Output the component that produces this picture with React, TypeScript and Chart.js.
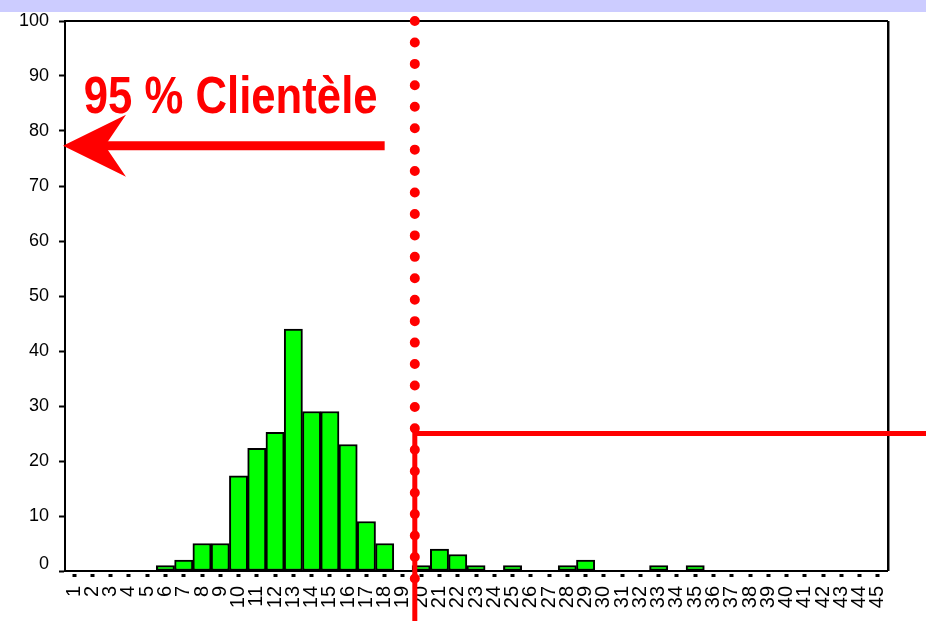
import { useEffect, useRef } from 'react';
import { Chart, registerables } from 'chart.js';

Chart.register(...registerables);

// ---- data ----
const categories = [
  '1', '2', '3', '4', '5', '6', '7', '8', '9', '10',
  '11', '12', '13', '14', '15', '16', '17', '18', '19', '20',
  '21', '22', '23', '24', '25', '26', '27', '28', '29', '30',
  '31', '32', '33', '34', '35', '36', '37', '38', '39', '40',
  '41', '42', '43', '44', '45',
];
const counts = [
  0, 0, 0, 0, 0, 1, 2, 5, 5, 17.3,
  22.3, 25.2, 44, 29, 29, 23, 9, 5, 0, 1,
  4, 3, 1, 0, 1, 0, 0, 1, 2, 0,
  0, 0, 1, 0, 1, 0, 0, 0, 0, 0,
  0, 0, 0, 0, 0,
];
const yMin = 0;
const yMax = 100;
const yStep = 10;

// annotation anchors (in data / category-index units)
const cutIndex = 18.65;
const cutLevel = 25;
const arrowLevel = 77.3;
const arrowTailIndex = 17;
const labelText = '95 % Clientèle';
const labelIndex = 0.53;
const labelLevel = 83.3;

const RED = '#FF0000';
const FONT = '"Liberation Sans", Arial, sans-serif';

const decorPlugin = {
  id: 'decor',
  beforeDraw(chart: any) {
    const { ctx, width } = chart;
    ctx.save();
    ctx.fillStyle = '#CCCCFF';
    ctx.fillRect(0, 0, width, 12);
    ctx.restore();
  },
  afterDatasetsDraw(chart: any) {
    const { ctx, chartArea, scales, width, height } = chart;
    const x = scales.x;
    const y = scales.y;
    ctx.save();

    // frame top & right
    ctx.strokeStyle = '#000';
    ctx.lineWidth = 2;
    ctx.beginPath();
    ctx.moveTo(chartArea.left - 1, chartArea.top);
    ctx.lineTo(chartArea.right + 1, chartArea.top);
    ctx.moveTo(chartArea.right + 1, chartArea.top);
    ctx.lineTo(chartArea.right + 1, chartArea.bottom);
    ctx.stroke();
    ctx.strokeStyle = '#888';
    ctx.lineWidth = 1;
    ctx.beginPath();
    ctx.moveTo(chartArea.right + 2.5, chartArea.top);
    ctx.lineTo(chartArea.right + 2.5, chartArea.bottom);
    ctx.stroke();

    // "0" label, slightly raised
    ctx.fillStyle = '#000';
    ctx.font = `18px ${FONT}`;
    ctx.textAlign = 'right';
    ctx.textBaseline = 'middle';
    ctx.fillText(String(yMin), chartArea.left - 16, y.getPixelForValue(yMin) - 7);

    const xc = x.getPixelForValue(cutIndex);
    const yCut = y.getPixelForValue(cutLevel);

    // horizontal threshold line
    ctx.strokeStyle = RED;
    ctx.lineWidth = 5;
    ctx.lineCap = 'butt';
    ctx.beginPath();
    ctx.moveTo(xc, yCut);
    ctx.lineTo(width, yCut);
    ctx.stroke();

    // solid vertical line
    ctx.beginPath();
    ctx.moveTo(xc, yCut - 3);
    ctx.lineTo(xc, height);
    ctx.stroke();

    // dotted vertical line
    ctx.setLineDash([0, 21.44]);
    ctx.lineCap = 'round';
    ctx.lineWidth = 10;
    ctx.beginPath();
    ctx.moveTo(xc, y.getPixelForValue(yMax));
    ctx.lineTo(xc, chartArea.bottom + 8);
    ctx.stroke();
    ctx.setLineDash([]);

    // arrow
    const ya = y.getPixelForValue(arrowLevel);
    const tip = chartArea.left - 2;
    const tail = x.getPixelForValue(arrowTailIndex);
    ctx.lineCap = 'butt';
    ctx.lineWidth = 9;
    ctx.beginPath();
    ctx.moveTo(tip + 40, ya);
    ctx.lineTo(tail, ya);
    ctx.stroke();
    ctx.fillStyle = RED;
    ctx.beginPath();
    ctx.moveTo(tip, ya);
    ctx.lineTo(tip + 63, ya - 31);
    ctx.lineTo(tip + 42, ya);
    ctx.lineTo(tip + 63, ya + 31);
    ctx.closePath();
    ctx.fill();

    // label
    ctx.translate(x.getPixelForValue(labelIndex), y.getPixelForValue(labelLevel));
    ctx.scale(0.84, 1);
    ctx.font = `bold 52px ${FONT}`;
    ctx.textAlign = 'left';
    ctx.textBaseline = 'alphabetic';
    ctx.fillStyle = RED;
    ctx.fillText(labelText, 0, 0);

    ctx.restore();
  },
};

export default function App() {
  const ref = useRef<HTMLCanvasElement>(null);

  useEffect(() => {
    if (!ref.current) return;
    const chart = new Chart(ref.current, {
      type: 'bar',
      data: {
        labels: categories,
        datasets: [
          {
            data: counts,
            backgroundColor: '#00FF00',
            borderColor: '#000',
            borderWidth: 2,
            borderSkipped: false,
            barPercentage: 1,
            categoryPercentage: 1,
          },
        ],
      },
      options: {
        responsive: false,
        animation: false,
        layout: { padding: { top: 21, right: 39, left: 0, bottom: 0 } },
        plugins: {
          legend: { display: false },
          tooltip: { enabled: false },
          title: { display: false },
        },
        scales: {
          x: {
            offset: true,
            afterFit: (s: any) => {
              s.height = 50;
            },
            grid: {
              offset: false,
              drawOnChartArea: false,
              color: '#000',
              tickLength: 6,
              tickWidth: 4,
              tickBorderDash: [4, 2],
              tickBorderDashOffset: 4,
            },
            border: { display: true, color: '#000', width: 2 },
            ticks: {
              autoSkip: false,
              minRotation: 90,
              maxRotation: 90,
              padding: 9,
              color: '#000',
              font: { family: FONT, size: 20 },
            },
          },
          y: {
            min: yMin,
            max: yMax,
            afterFit: (s: any) => {
              s.width = 65;
            },
            grid: {
              drawOnChartArea: false,
              color: '#000',
              tickLength: 6,
              tickWidth: 2,
            },
            border: { display: true, color: '#000', width: 2 },
            ticks: {
              stepSize: yStep,
              padding: 10,
              color: '#000',
              font: { family: FONT, size: 18 },
              callback: (v: any) => (v === yMin ? '' : String(v)),
            },
          },
        },
      },
      plugins: [decorPlugin],
    });
    return () => chart.destroy();
  }, []);

  return (
    <div style={{ position: 'fixed', left: 0, top: 0, width: 926, height: 621, background: '#fff' }}>
      <canvas ref={ref} width={926} height={621} />
    </div>
  );
}
